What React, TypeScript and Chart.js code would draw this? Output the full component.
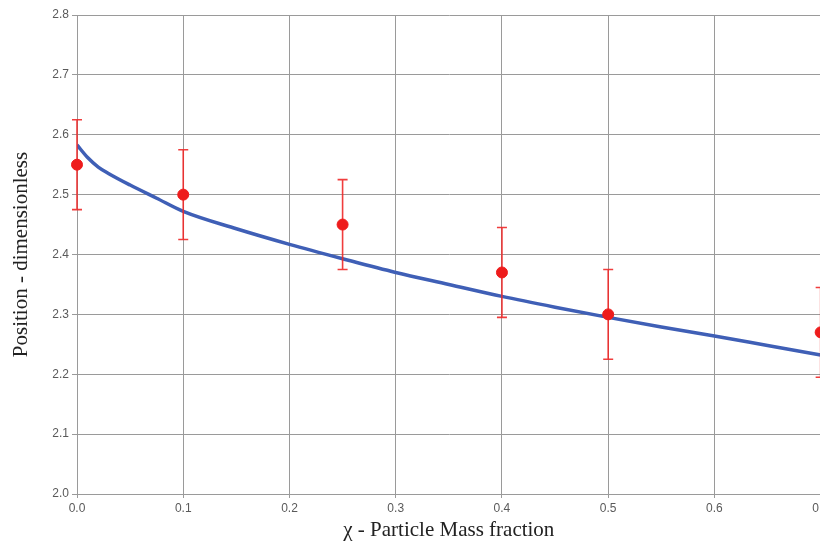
import React, { useEffect, useRef } from "react";
import { Chart, registerables } from "chart.js";

Chart.register(...registerables);

// Measured positions (mass fraction) and their uncertainties
const measX = [0.0, 0.1, 0.25, 0.4, 0.5, 0.7];
const measY = [2.55, 2.5, 2.45, 2.37, 2.3, 2.27];
const measErr = [0.075, 0.075, 0.075, 0.075, 0.075, 0.075];

// Model curve
const modelX = [0, 0.01, 0.02, 0.03, 0.05, 0.075, 0.1, 0.15, 0.2, 0.25, 0.3, 0.35, 0.4, 0.45, 0.5, 0.55, 0.6, 0.65, 0.7];
const modelY = [2.583, 2.562, 2.546, 2.535, 2.516, 2.494, 2.472, 2.443, 2.417, 2.393, 2.37, 2.35, 2.33, 2.312, 2.295, 2.279, 2.264, 2.248, 2.232];

const X_MIN = 0;
const X_MAX = 0.7;
const Y_MIN = 2.0;
const Y_MAX = 2.8;
const TICK_STEP = 0.1;

const RED = "#ee1c1c";
const BLUE = "#3f5fb6";
const GRID = "#9a9a9a";

const errorBars = {
  id: "errorBars",
  beforeDatasetDraw(chart: any, args: any) {
    if (args.index !== 0) return;
    const { ctx } = chart;
    const xs = chart.scales.x;
    const ys = chart.scales.y;
    ctx.save();
    ctx.strokeStyle = "rgba(238,40,40,0.9)";
    ctx.lineWidth = 1.6;
    measX.forEach((x, i) => {
      const px = xs.getPixelForValue(x);
      const top = ys.getPixelForValue(measY[i] + measErr[i]);
      const bot = ys.getPixelForValue(measY[i] - measErr[i]);
      ctx.beginPath();
      ctx.moveTo(px, top);
      ctx.lineTo(px, bot);
      ctx.moveTo(px - 5, top);
      ctx.lineTo(px + 5, top);
      ctx.moveTo(px - 5, bot);
      ctx.lineTo(px + 5, bot);
      ctx.stroke();
    });
    ctx.restore();
  },
};

const tickFont = { family: "Liberation Sans", size: 12 };
const titleFont = { family: "Liberation Serif", size: 21 };

export default function App() {
  const ref = useRef<HTMLCanvasElement | null>(null);

  useEffect(() => {
    if (!ref.current) return;
    const chart = new Chart(ref.current, {
      type: "scatter",
      data: {
        datasets: [
          {
            label: "Measured",
            data: measX.map((x, i) => ({ x, y: measY[i] })),
            backgroundColor: RED,
            borderColor: RED,
            pointRadius: 5.5,
            pointHoverRadius: 5.5,
            clip: 10,
          },
          {
            label: "Model",
            type: "line",
            data: modelX.map((x, i) => ({ x, y: modelY[i] })),
            borderColor: BLUE,
            borderWidth: 3.5,
            pointRadius: 0,
            cubicInterpolationMode: "monotone",
            fill: false,
          },
        ],
      },
      plugins: [errorBars],
      options: {
        responsive: false,
        animation: false,
        layout: { padding: { top: 15, right: 0, bottom: 0, left: 0 } },
        plugins: {
          legend: { display: false },
          tooltip: { enabled: false },
        },
        scales: {
          x: {
            type: "linear",
            min: X_MIN,
            max: X_MAX,
            afterFit: (s: any) => {
              s.height = 51;
            },
            ticks: {
              stepSize: TICK_STEP,
              color: "#5a5a5a",
              font: tickFont,
              padding: 3,
              maxRotation: 0,
              callback: (v: any) => Number(v).toFixed(1),
            },
            grid: { color: GRID, lineWidth: 1, tickLength: 4 },
            border: { color: GRID },
            title: {
              display: true,
              text: "χ - Particle Mass fraction",
              color: "#222",
              font: titleFont,
              padding: { top: 0, bottom: 2 },
            },
          },
          y: {
            min: Y_MIN,
            max: Y_MAX,
            afterFit: (s: any) => {
              s.width = 77;
            },
            ticks: {
              stepSize: TICK_STEP,
              color: "#5a5a5a",
              font: tickFont,
              padding: 3,
              callback: (v: any) => Number(v).toFixed(1),
            },
            grid: { color: GRID, lineWidth: 1, tickLength: 5 },
            border: { color: GRID },
            title: {
              display: true,
              text: "Position - dimensionless",
              color: "#222",
              font: titleFont,
              padding: { top: 9, bottom: 0 },
            },
          },
        },
      },
    });
    return () => chart.destroy();
  }, []);

  return (
    <div
      style={{
        position: "fixed",
        left: 0,
        top: 0,
        width: 820,
        height: 545,
        overflow: "hidden",
        background: "#fff",
      }}
    >
      <canvas ref={ref} width={832} height={545} style={{ display: "block" }} />
    </div>
  );
}
